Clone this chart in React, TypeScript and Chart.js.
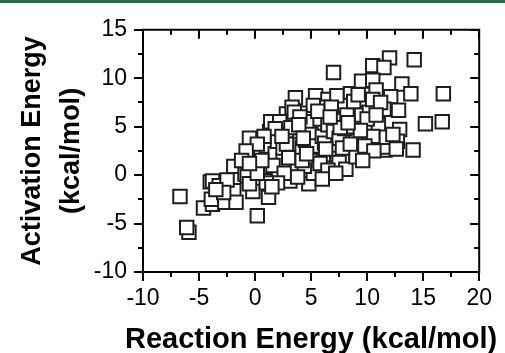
import React, { useEffect, useRef } from "react";
import { Chart, registerables } from "chart.js";

Chart.register(...registerables);

// Reaction energy (x, kcal/mol) and activation energy (y, kcal/mol) for each point
const reactionEnergy: number[] = [
  -6.7, -5.9, -6.1, -4.6, -3.8, -3.9, -4.0, -3.8, -3.2, -2.7, -1.9, -1.7, -1.9, -0.9, -0.7, -0.2, 0.2, 1.2, -0.2, 0.6,
  -0.5, -0.2, 1.3, 1.4, 0.8, 2.1, 3.1, 3.3, 4.8, 5.2, 4.4, 3.3, 2.8, 1.3, 5.5, 5.4, 4.5, 6.1, 7.3, 7.5,
  8.1, 8.5, 6.9, 7.0, 3.6, 5.4, 6.5, 2.8, 3.3, 4.7, 6.1, 1.4, 8.5, 8.5, 7.7, 5.5, 12.0, 14.2, 10.5, 11.5,
  9.5, 10.5, 10.8, 13.1, 13.9, 16.8, 10.0, 12.1, 11.5, 12.8, 15.2, 16.7, 11.0, 12.9, 14.1, 11.6, 11.5, 11.7, 12.7, 10.5,
  9.0, 9.0, 9.0,
  0.5, 1.0, 1.8, 2.0, 2.5, 2.5, 3.0, 3.0, 3.8, 4.0, 4.2, 4.5, 4.8, 5.0, 5.0, 5.5, 5.8, 6.0, 6.2, 6.5,
  7.0, 7.2, 7.5, 7.8, 8.0, 8.2, 8.8, 9.3, 9.5, 10.2, 10.5, 11.2, 7.3, 6.0, 5.2, 3.5, 2.2, 1.8, 0.8, 0.2,
  -0.8, -1.2, 1.6, 2.6, 3.8, 4.2, 5.8, 6.5, 6.0, 7.2, 2.0, 1.0, -0.5, -2.5, -2.8, -3.5, 0.2, 1.5, 4.0, 7.8,
  8.5, 9.8, 10.6, 10.0, 12.3, 12.6, 3.2, 5.6, 6.8, 8.8, 4.6, 2.8, 0.6, -0.5, 9.6, 9.2, 6.3, 7.6, 9.4, 3.9,
  2.4, 8.3, 10.8, 6.7, 4.3,
];
const activationEnergy: number[] = [
  -2.2, -5.9, -5.4, -3.4, -3.0, -2.5, -0.7, -0.6, -1.1, -2.8, -1.6, -2.8, 0.9, 0.1, -0.1, -1.7, -4.2, -2.3, 1.8, 0.8,
  3.8, 2.1, 3.4, 1.8, 0.8, 0.4, -0.6, 0.8, -0.9, 0.2, 0.9, 2.6, 4.4, 4.5, 4.6, 3.8, 1.9, 2.1, 2.1, 1.3,
  0.6, 4.4, 3.1, 10.6, 8.0, 8.2, 7.8, 6.3, 7.0, 6.4, 6.4, 5.5, 8.4, 7.0, 5.6, 5.1, 12.1, 11.9, 11.3, 11.1,
  9.7, 9.8, 8.8, 9.4, 8.4, 8.4, 7.3, 8.1, 6.8, 6.7, 5.3, 5.5, 5.2, 4.7, 2.6, 2.6, 2.9, 3.9, 3.5, 4.0,
  3.6, 2.3, 1.9,
  2.5, 3.0, 2.2, 3.5, 1.5, 2.8, 3.8, 1.8, 3.2, 4.5, 2.8, 3.6, 5.5, 2.9, 4.2, 3.0, 5.8, 4.0, 3.3, 5.2,
  4.5, 6.0, 3.8, 7.2, 4.8, 6.2, 5.0, 7.8, 6.2, 6.5, 7.8, 7.5, 8.2, 7.0, 7.2, 6.5, 5.5, 4.8, 4.0, 3.2,
  2.5, 1.5, 1.0, 0.2, -0.2, 1.5, 1.2, 0.5, -0.4, 0.2, -0.8, -0.8, -0.9, -0.5, -1.8, -1.5, 0.2, -1.2, 6.0, 2.8,
  3.2, 3.0, 2.5, 5.8, 4.2, 2.7, 4.9, 6.6, 7.0, 7.6, 2.2, 3.2, 1.5, 1.2, 1.5, 8.3, 2.7, 4.9, 4.6, 5.2,
  4.0, 5.4, 6.2, 6.0, 3.8,
];

const xMin = -10, xMax = 20, xStep = 5;
const yMin = -10, yMax = 15, yStep = 5;
const xTitle = "Reaction Energy (kcal/mol)";
const yTitle = ["Activation Energy", "(kcal/mol)"];

const FONT = "'Liberation Sans', Arial, Helvetica, sans-serif";

const framePlugin = {
  id: "frame",
  afterDraw(chart: any) {
    const ctx = chart.ctx;
    const { left, right, top, bottom } = chart.chartArea;
    const xs = chart.scales.x;
    const ys = chart.scales.y;
    const major = 9;
    const minor = 5;
    ctx.save();
    ctx.strokeStyle = "#000";
    ctx.lineWidth = 2;
    ctx.lineCap = "butt";
    ctx.beginPath();
    ctx.rect(left, top, right - left, bottom - top);
    ctx.stroke();

    const xv: number[] = xs.ticks.map((t: any) => t.value);
    const yv: number[] = ys.ticks.map((t: any) => t.value);
    ctx.beginPath();
    xv.forEach((v, i) => {
      const px = Math.round(xs.getPixelForValue(v));
      ctx.moveTo(px, bottom);
      ctx.lineTo(px, bottom + major);
      ctx.moveTo(px, top);
      ctx.lineTo(px, top + major);
      if (i < xv.length - 1) {
        const m = Math.round(xs.getPixelForValue((v + xv[i + 1]) / 2));
        ctx.moveTo(m, bottom);
        ctx.lineTo(m, bottom + minor);
        ctx.moveTo(m, top);
        ctx.lineTo(m, top + minor);
      }
    });
    yv.forEach((v, i) => {
      const py = Math.round(ys.getPixelForValue(v));
      ctx.moveTo(left, py);
      ctx.lineTo(left - major, py);
      ctx.moveTo(right, py);
      ctx.lineTo(right - major, py);
      if (i < yv.length - 1) {
        const m = Math.round(ys.getPixelForValue((v + yv[i + 1]) / 2));
        ctx.moveTo(left, m);
        ctx.lineTo(left - minor, m);
        ctx.moveTo(right, m);
        ctx.lineTo(right - minor, m);
      }
    });
    ctx.stroke();

    // x-axis title, centred under the plot (not squeezed to plot width)
    ctx.fillStyle = "#000";
    ctx.font = `bold 29px ${FONT}`;
    ctx.textAlign = "center";
    ctx.textBaseline = "middle";
    ctx.fillText(xTitle, (left + right) / 2, 340);
    ctx.restore();
  },
};

export default function App() {
  const ref = useRef<HTMLCanvasElement | null>(null);

  useEffect(() => {
    if (!ref.current) return;
    const points = reactionEnergy.map((x, i) => ({ x, y: activationEnergy[i] }));
    const chart = new Chart(ref.current, {
      type: "scatter",
      data: {
        datasets: [
          {
            data: points,
            pointStyle: "rect",
            pointRadius: 9.5,
            pointHoverRadius: 9.5,
            pointBackgroundColor: "#ffffff",
            pointBorderColor: "#1e1e1e",
            pointBorderWidth: 2,
          } as any,
        ],
      },
      options: {
        responsive: false,
        animation: false,
        events: [],
        layout: { padding: { top: 21, right: 25, bottom: 0, left: 0 } },
        plugins: { legend: { display: false }, tooltip: { enabled: false } },
        scales: {
          x: {
            type: "linear",
            position: "bottom",
            min: xMin,
            max: xMax,
            ticks: { stepSize: xStep, padding: 13, color: "#000", font: { family: FONT, size: 23 } },
            grid: { display: false, drawTicks: false },
            border: { display: false },
            title: { display: false },
            afterFit(s: any) {
              s.height = 81;
            },
          },
          y: {
            type: "linear",
            position: "left",
            min: yMin,
            max: yMax,
            ticks: { stepSize: yStep, padding: 16, color: "#000", font: { family: FONT, size: 23 } },
            grid: { display: false, drawTicks: false },
            border: { display: false },
            title: {
              display: true,
              text: yTitle,
              color: "#000",
              font: { family: FONT, size: 27, weight: "bold", lineHeight: "39px" },
              padding: { top: 13, bottom: 0 },
            },
            afterFit(s: any) {
              s.width = 143;
            },
          },
        },
      } as any,
      plugins: [framePlugin],
    });
    return () => chart.destroy();
  }, []);

  return (
    <div style={{ position: "fixed", left: 0, top: 0, width: 505, height: 353, background: "#fff" }}>
      <canvas ref={ref} width={505} height={353} style={{ display: "block", width: 505, height: 353 }} />
      <div style={{ position: "absolute", left: 0, top: 0, width: 505, height: 3, background: "#2d6a4b" }} />
    </div>
  );
}
